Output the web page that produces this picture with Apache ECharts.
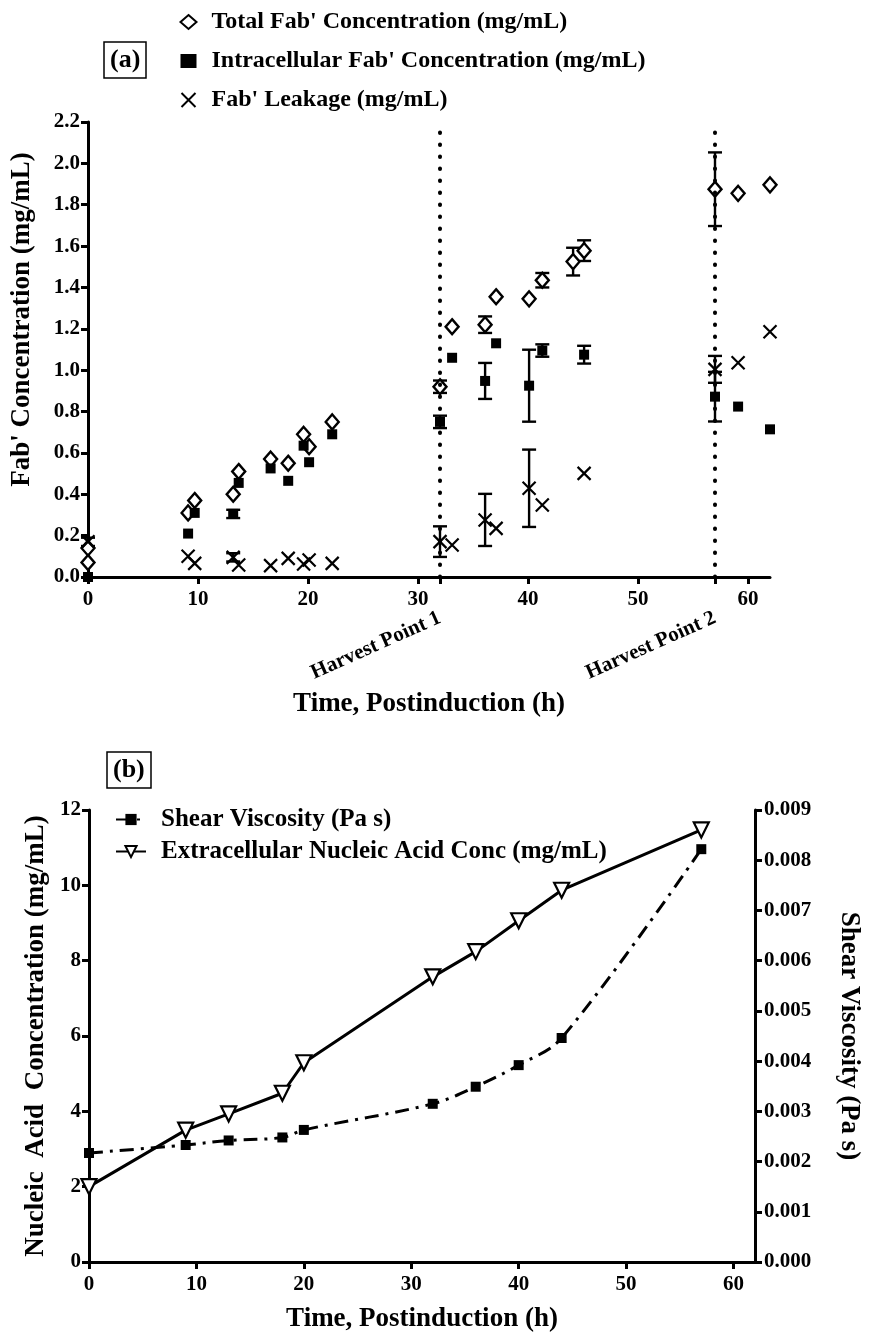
<!DOCTYPE html>
<html>
<head>
<meta charset="utf-8">
<script src="https://cdn.jsdelivr.net/npm/echarts@6/dist/echarts.min.js"></script>
<style>
html,body{margin:0;padding:0;background:#fff;}
#chart{width:870px;height:1340px;}
</style>
</head>
<body>
<div id="chart"></div>
<script>
// ---------- Panel (a) data ----------
const xTickValues = [0, 10, 20, 30, 40, 50, 60];
const harvestTimes = [32, 57];
const harvestLabels = ['Harvest Point 1', 'Harvest Point 2'];

const totalTime = [0, 0, 9.1, 9.7, 13.2, 13.7, 16.6, 18.2, 19.6, 20.1, 22.2, 32, 33.1, 36.1, 37.1, 40.1, 41.3, 44.1, 45.1, 57, 59.1, 62];
const totalConc = [0.14, 0.07, 0.31, 0.37, 0.40, 0.51, 0.57, 0.55, 0.69, 0.63, 0.75, 0.92, 1.21, 1.22, 1.355, 1.345, 1.435, 1.525, 1.578, 1.875, 1.855, 1.896];
const totalErr  = [0, 0, 0, 0, 0, 0, 0, 0, 0, 0, 0, 0.03, 0, 0.04, 0, 0, 0.035, 0.067, 0.05, 0.178, 0, 0];

const intraTime = [0, 9.1, 9.7, 13.2, 13.7, 16.6, 18.2, 19.6, 20.1, 22.2, 32, 33.1, 36.1, 37.1, 40.1, 41.3, 45.1, 57, 59.1, 62];
const intraConc = [0.0, 0.21, 0.31, 0.305, 0.455, 0.525, 0.465, 0.635, 0.555, 0.69, 0.75, 1.06, 0.948, 1.13, 0.925, 1.095, 1.075, 0.872, 0.824, 0.714];
const intraErr  = [0, 0, 0, 0.02, 0, 0, 0, 0, 0, 0, 0.03, 0, 0.087, 0, 0.174, 0.03, 0.043, 0.12, 0, 0];

const leakTime = [0, 9.1, 9.7, 13.2, 13.7, 16.6, 18.2, 19.6, 20.1, 22.2, 32, 33.1, 36.1, 37.1, 40.1, 41.3, 45.1, 57, 59.1, 62];
const leakConc = [0.17, 0.10, 0.066, 0.095, 0.058, 0.055, 0.09, 0.063, 0.082, 0.066, 0.171, 0.155, 0.276, 0.235, 0.429, 0.348, 0.501, 1.004, 1.036, 1.186];
const leakErr  = [0.02, 0, 0, 0.02, 0, 0, 0, 0, 0, 0, 0.074, 0, 0.126, 0, 0.187, 0, 0, 0.065, 0, 0];

// ---------- Panel (b) data ----------
const bTime = [0, 9, 13, 18, 20, 32, 36, 40, 44, 57];
const nucleicConc = [2.0, 3.5, 3.93, 4.48, 5.29, 7.57, 8.24, 9.06, 9.87, 11.47];
const shearVisc = [0.00217, 0.00233, 0.00242, 0.00248, 0.00263, 0.00315, 0.00349, 0.00392, 0.00446, 0.00822];

const nameTotal = "Total Fab' Concentration (mg/mL)";
const nameIntra = "Intracellular Fab' Concentration (mg/mL)";
const nameLeak = "Fab' Leakage (mg/mL)";
const nameVisc = 'Shear Viscosity (Pa s)';
const nameNuc = 'Extracellular Nucleic Acid Conc (mg/mL)';

// ---------- helpers ----------
const FONT = '"Liberation Serif", "Times New Roman", serif';
const zip = (a, b) => a.map((v, i) => [v, b[i]]);
const errData = (t, v, e) => t.map((x, i) => [x, v[i] - e[i], v[i] + e[i], e[i]]).filter(d => d[3] > 0);

function errRender(params, api) {
  const x = api.value(0), lo = api.value(1), hi = api.value(2);
  const pHi = api.coord([x, hi]);
  const pLo = api.coord([x, lo]);
  const w = 7;
  const st = { stroke: '#000', lineWidth: 2.4 };
  return {
    type: 'group',
    children: [
      { type: 'line', shape: { x1: pHi[0], y1: pHi[1], x2: pLo[0], y2: pLo[1] }, style: st },
      { type: 'line', shape: { x1: pHi[0] - w, y1: pHi[1], x2: pHi[0] + w, y2: pHi[1] }, style: st },
      { type: 'line', shape: { x1: pLo[0] - w, y1: pLo[1], x2: pLo[0] + w, y2: pLo[1] }, style: st }
    ]
  };
}

const axisLineStyle = { lineStyle: { color: '#000', width: 3 } };
const tickStyle = { show: true, inside: false, length: 7, lineStyle: { color: '#000', width: 3 } };
const labelStyle = { color: '#000', fontFamily: FONT, fontWeight: 'bold', fontSize: 21 };
const nameStyle = { color: '#000', fontFamily: FONT, fontWeight: 'bold', fontSize: 27 };

const crossPath = 'path://M0,0L10,10M0,10L10,0';

const chart = echarts.init(document.getElementById('chart'), null, { renderer: 'canvas' });

const option = {
  backgroundColor: '#fff',
  animation: false,
  title: [
    { text: '(a)', left: 104, top: 42, padding: [5, 6, 5, 6], borderColor: '#000', borderWidth: 1.5,
      textStyle: { color: '#000', fontFamily: FONT, fontWeight: 'bold', fontSize: 26 } },
    { text: '(b)', left: 107, top: 752, padding: [5, 6, 5, 6], borderColor: '#000', borderWidth: 1.5,
      textStyle: { color: '#000', fontFamily: FONT, fontWeight: 'bold', fontSize: 26 } }
  ],
  legend: [
    {
      orient: 'vertical', left: 174, top: 5, itemGap: 15, itemWidth: 16, itemHeight: 14,
      data: [nameTotal, nameIntra, nameLeak],
      textStyle: { color: '#000', fontFamily: FONT, fontWeight: 'bold', fontSize: 24, padding: [0, 0, 0, 10] }
    },
    {
      orient: 'vertical', left: 110, top: 802, itemGap: 7, itemWidth: 30, itemHeight: 14,
      data: [nameVisc, nameNuc],
      textStyle: { color: '#000', fontFamily: FONT, fontWeight: 'bold', fontSize: 25, padding: [0, 0, 0, 10] }
    }
  ],
  grid: [
    { left: 88, top: 122, width: 682, height: 455 },
    { left: 89, top: 810, width: 681, height: 452 }
  ],
  xAxis: [
    {
      gridIndex: 0, type: 'value', min: 0, max: 62, interval: 10,
      name: 'Time, Postinduction (h)', nameLocation: 'middle', nameGap: 114, nameTextStyle: nameStyle,
      axisLine: axisLineStyle,
      axisTick: Object.assign({}, tickStyle, { customValues: xTickValues }),
      axisLabel: Object.assign({}, labelStyle, { customValues: xTickValues, margin: 12 }),
      splitLine: { show: false }
    },
    {
      gridIndex: 0, type: 'value', min: 0, max: 62, position: 'bottom',
      axisLine: { show: false },
      axisTick: Object.assign({}, tickStyle, { customValues: harvestTimes }),
      axisLabel: Object.assign({}, labelStyle, {
        customValues: harvestTimes, rotate: 24, margin: 40, fontSize: 21,
        formatter: v => harvestLabels[harvestTimes.indexOf(v)] || ''
      }),
      splitLine: { show: false }
    },
    {
      gridIndex: 1, type: 'value', min: 0, max: 62, interval: 10,
      name: 'Time, Postinduction (h)', nameLocation: 'middle', nameGap: 44, nameTextStyle: nameStyle,
      axisLine: axisLineStyle,
      axisTick: Object.assign({}, tickStyle, { customValues: xTickValues }),
      axisLabel: Object.assign({}, labelStyle, { customValues: xTickValues, margin: 12 }),
      splitLine: { show: false }
    }
  ],
  yAxis: [
    {
      gridIndex: 0, type: 'value', min: 0, max: 2.2, interval: 0.2,
      name: "Fab' Concentration (mg/mL)", nameLocation: 'middle', nameGap: 52,
      nameTextStyle: Object.assign({}, nameStyle, { padding: [0, 0, 0, 60] }),
      axisLine: axisLineStyle, axisTick: tickStyle,
      axisLabel: Object.assign({}, labelStyle, { margin: 8, formatter: v => v.toFixed(1) }),
      splitLine: { show: false }
    },
    {
      gridIndex: 1, type: 'value', min: 0, max: 12, interval: 2,
      name: 'Nucleic  Acid  Concentration (mg/mL)', nameLocation: 'middle', nameGap: 37,
      nameTextStyle: nameStyle,
      axisLine: axisLineStyle, axisTick: tickStyle,
      axisLabel: Object.assign({}, labelStyle, { margin: 8 }),
      splitLine: { show: false }
    },
    {
      gridIndex: 1, type: 'value', min: 0, max: 0.009, interval: 0.001, position: 'right',
      name: 'Shear Viscosity (Pa s)', nameLocation: 'middle', nameGap: 80, nameRotate: -90,
      nameTextStyle: nameStyle,
      axisLine: axisLineStyle, axisTick: tickStyle,
      axisLabel: Object.assign({}, labelStyle, { margin: 9, formatter: v => v.toFixed(3) }),
      splitLine: { show: false }
    }
  ],
  series: [
    {
      name: nameTotal, type: 'scatter', xAxisIndex: 0, yAxisIndex: 0, z: 4,
      data: zip(totalTime, totalConc), symbol: 'diamond', symbolSize: [13, 15],
      itemStyle: { color: '#fff', borderColor: '#000', borderWidth: 2.4, opacity: 1 },
      markLine: {
        silent: true, symbol: 'none', label: { show: false },
        lineStyle: { color: '#000', type: [0.5, 11.5], width: 4, cap: 'round' },
        data: harvestTimes.map(t => ({ xAxis: t }))
      }
    },
    {
      name: nameIntra, type: 'scatter', xAxisIndex: 0, yAxisIndex: 0, z: 5,
      data: zip(intraTime, intraConc), symbol: 'rect', symbolSize: 10,
      itemStyle: { color: '#000', opacity: 1 }
    },
    {
      name: nameLeak, type: 'scatter', xAxisIndex: 0, yAxisIndex: 0, z: 5,
      data: zip(leakTime, leakConc), symbol: crossPath, symbolSize: 13,
      itemStyle: { color: 'none', borderColor: '#000', borderWidth: 2.2, opacity: 1 }
    },
    {
      type: 'custom', xAxisIndex: 0, yAxisIndex: 0, z: 3, renderItem: errRender,
      encode: { x: 0, y: [1, 2] }, data: errData(totalTime, totalConc, totalErr)
    },
    {
      type: 'custom', xAxisIndex: 0, yAxisIndex: 0, z: 3, renderItem: errRender,
      encode: { x: 0, y: [1, 2] }, data: errData(intraTime, intraConc, intraErr)
    },
    {
      type: 'custom', xAxisIndex: 0, yAxisIndex: 0, z: 3, renderItem: errRender,
      encode: { x: 0, y: [1, 2] }, data: errData(leakTime, leakConc, leakErr)
    },
    {
      name: nameVisc, type: 'line', xAxisIndex: 2, yAxisIndex: 2, z: 4,
      data: zip(bTime, shearVisc), symbol: 'rect', symbolSize: 10, smooth: 0.35,
      itemStyle: { color: '#000' },
      lineStyle: { color: '#000', width: 3, type: [14, 7, 3, 7] }
    },
    {
      name: nameNuc, type: 'line', xAxisIndex: 2, yAxisIndex: 1, z: 5,
      data: zip(bTime, nucleicConc), symbol: 'triangle', symbolRotate: 180, symbolSize: 15,
      itemStyle: { color: '#fff', borderColor: '#000', borderWidth: 2.2 },
      lineStyle: { color: '#000', width: 3, type: 'solid' }
    }
  ]
};

chart.setOption(option);
</script>
</body>
</html>
